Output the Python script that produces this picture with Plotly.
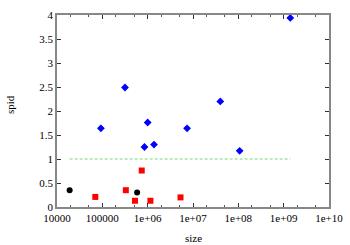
import plotly.graph_objects as go

# Blue diamonds
blue_x = [93000, 316000, 1.0e6, 850000, 1.38e6, 7.4e6, 4.0e7, 1.07e8, 1.4e9]
blue_y = [1.64, 2.49, 1.76, 1.25, 1.30, 1.64, 2.20, 1.17, 3.94]

# Red squares
red_x = [70000, 330000, 526000, 740000, 1.15e6, 5.3e6]
red_y = [0.21, 0.35, 0.13, 0.76, 0.13, 0.20]

# Black circles
black_x = [19000, 585000]
black_y = [0.35, 0.30]

# Reference line
ref_x = [19000, 1.4e9]
ref_y = [1, 1]

x_tickvals = [1e4, 1e5, 1e6, 1e7, 1e8, 1e9, 1e10]
x_ticktext = ["10000", "100000", "1e+06", "1e+07", "1e+08", "1e+09", "1e+10"]
y_tickvals = [0, 0.5, 1, 1.5, 2, 2.5, 3, 3.5, 4]
y_ticktext = ["0", "0.5", "1", "1.5", "2", "2.5", "3", "3.5", "4"]

fig = go.Figure()
fig.add_trace(go.Scatter(x=ref_x, y=ref_y, mode="lines",
                         line=dict(color="#7ad97a", width=1, dash="3px,2px"),
                         showlegend=False, hoverinfo="skip"))
fig.add_trace(go.Scatter(x=blue_x, y=blue_y, mode="markers",
                         marker=dict(symbol="diamond", size=6, color="#0000ff"),
                         showlegend=False))
fig.add_trace(go.Scatter(x=red_x, y=red_y, mode="markers",
                         marker=dict(symbol="square", size=6, color="#ff0000"),
                         showlegend=False))
fig.add_trace(go.Scatter(x=black_x, y=black_y, mode="markers",
                         marker=dict(symbol="circle", size=6, color="#000000"),
                         showlegend=False))

font = dict(family="'Times New Roman', 'Liberation Serif', 'DejaVu Serif', serif",
            size=11, color="#000000")
axis_common = dict(showgrid=False, zeroline=False, showline=True, linecolor="#888888",
                   linewidth=1.5, mirror="allticks", ticks="inside", ticklen=4,
                   tickcolor="#333333", tickwidth=1, tickfont=font, automargin=False)

fig.update_layout(
    template="none",
    width=350, height=245,
    margin=dict(l=57, r=21, t=15, b=38),
    paper_bgcolor="white", plot_bgcolor="white",
    font=font,
    xaxis=dict(type="log", range=[4, 10], tickmode="array", tickvals=x_tickvals,
               ticktext=x_ticktext,
               minor=dict(ticks="inside", ticklen=2, tickcolor="#555555", showgrid=False),
               **axis_common),
    yaxis=dict(range=[0, 4], tickmode="array", tickvals=y_tickvals, ticktext=y_ticktext,
               **axis_common),
    annotations=[
        dict(text="spid", xref="paper", yref="paper", x=-(57 - 10) / 272, y=(207 - 105) / 192,
             xanchor="center", yanchor="middle", textangle=-90, showarrow=False, font=font),
        dict(text="size", xref="paper", yref="paper", x=(193 - 57) / 272, y=-(238 - 207) / 192,
             xanchor="center", yanchor="middle", showarrow=False, font=font),
    ],
)

fig.write_html("out.html", config={"displayModeBar": False},
               post_script="document.body.style.margin='0';document.body.style.overflow='hidden';")
